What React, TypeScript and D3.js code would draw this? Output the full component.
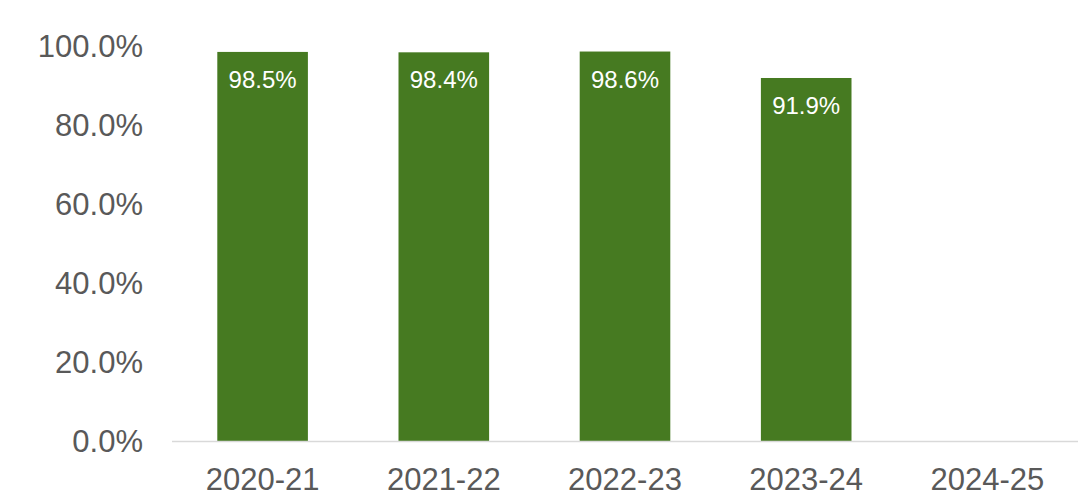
import React from "react";
import * as d3 from "d3";

const categories = ["2020-21", "2021-22", "2022-23", "2023-24", "2024-25"];
const values: (number | null)[] = [98.5, 98.4, 98.6, 91.9, null];
const yTicks = [0, 20, 40, 60, 80, 100];

const W = 1089;
const H = 498;

export default function App() {
  const x = d3.scaleBand<string>().domain(categories).range([172, 1078]).paddingInner(0.5).paddingOuter(0.25);
  const y = d3.scaleLinear().domain([0, 100]).range([441, 46]);
  const font = "Arial, 'Liberation Sans', Helvetica, sans-serif";
  return (
    <svg width={W} height={H} style={{ position: "absolute", left: 0, top: 0, background: "#fff" }} fontFamily={font}>
      {yTicks.map((t) => (
        <text key={t} x={143} y={y(t)} dy="0.35em" textAnchor="end" fontSize={31} fill="#595959">
          {t.toFixed(1) + "%"}
        </text>
      ))}
      {categories.map((c, i) => {
        const v = values[i];
        if (v == null) return null;
        return (
          <g key={c}>
            <rect x={x(c)!} y={y(v)} width={x.bandwidth()} height={y(0) - y(v)} fill="#467a21" />
            <text x={x(c)! + x.bandwidth() / 2} y={y(v) + 36} textAnchor="middle" fontSize={24} fill="#ffffff">
              {v.toFixed(1) + "%"}
            </text>
          </g>
        );
      })}
      <line x1={172} x2={1078} y1={441.5} y2={441.5} stroke="#d9d9d9" strokeWidth={1.5} />
      {categories.map((c) => (
        <text key={c} x={x(c)! + x.bandwidth() / 2} y={490} textAnchor="middle" fontSize={31} fill="#595959">
          {c}
        </text>
      ))}
    </svg>
  );
}
